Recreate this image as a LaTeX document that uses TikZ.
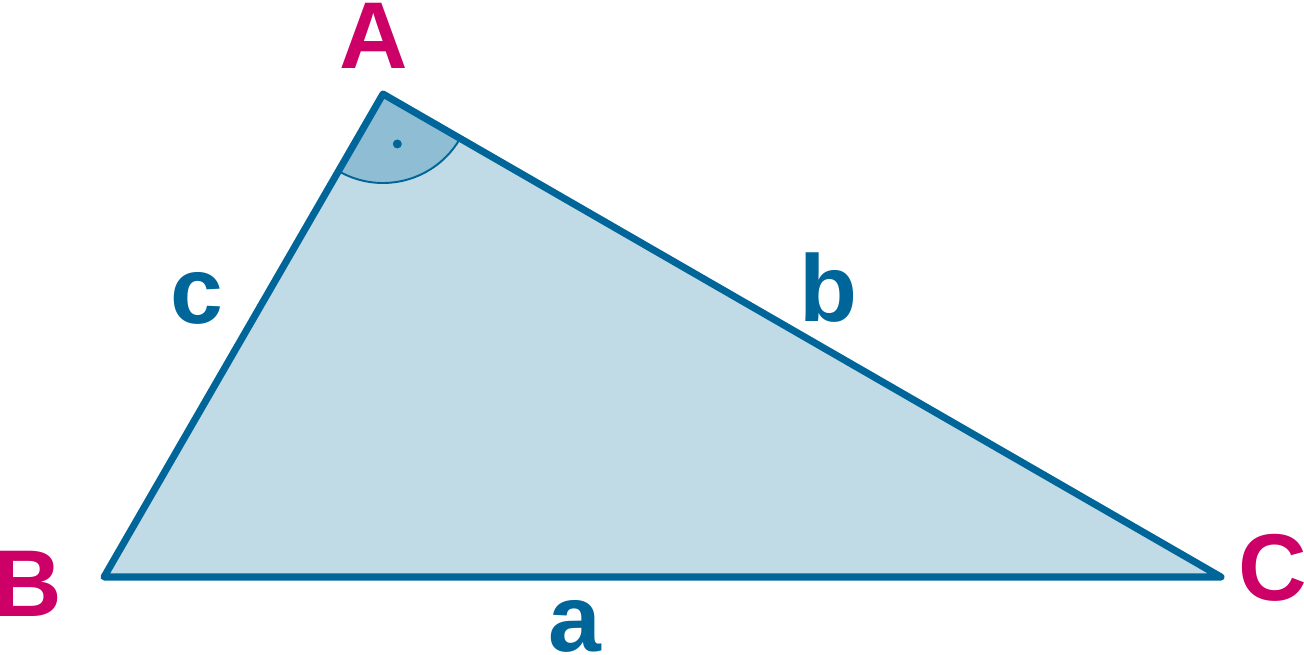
\documentclass[tikz,border=0pt]{standalone}
\usepackage{fontspec}
\setmainfont{Liberation Sans}
\usetikzlibrary{positioning}
\definecolor{sideblue}{RGB}{0,102,153}
\definecolor{areablue}{RGB}{192,218,230}
\definecolor{angleblue}{RGB}{143,189,211}
\definecolor{vertexred}{RGB}{204,0,102}
\tikzset{
  vertex/.style={anchor=base, text=vertexred, font=\fontsize{54}{54}\selectfont\bfseries, inner sep=0pt},
  side/.style={anchor=base, text=sideblue, font=\fontsize{54}{54}\selectfont\bfseries, inner sep=0pt}
}

\begin{document}
\begin{tikzpicture}[x=0.02cm, y=0.02cm]
            \useasboundingbox (0, 0) rectangle (1304, 655);
            \coordinate (A) at (383, 561);
            \coordinate (B) at (104, 78);
            \coordinate (C) at (1221, 78);

            \node [vertex] (lA) at (374, 586) {A};
            \node [vertex] (lB) at (28, 38) {B};
            \node [vertex] (lC) at (1273, 54) {C};
            \node [side] (la) at (575, 3) {a};
            \node [side] (lb) at (828, 333) {b};
            \node [side] (lc) at (197, 331) {c};

            \fill [areablue] (A) -- (B) -- (C) -- cycle;
            \fill [angleblue] (A) -- ++(240:89) arc [start angle=240, end angle=330, radius=89] -- cycle;
            \draw [sideblue, line width=1.1pt] (A) ++(240:89) arc [start angle=240, end angle=330, radius=89];
            \fill [sideblue] (A) ++(286:52) circle [radius=4.5];
            \draw [sideblue, line width=4pt, line join=round, line cap=round] (A) -- (B) -- (C) -- cycle;
        \end{tikzpicture}
\end{document}
